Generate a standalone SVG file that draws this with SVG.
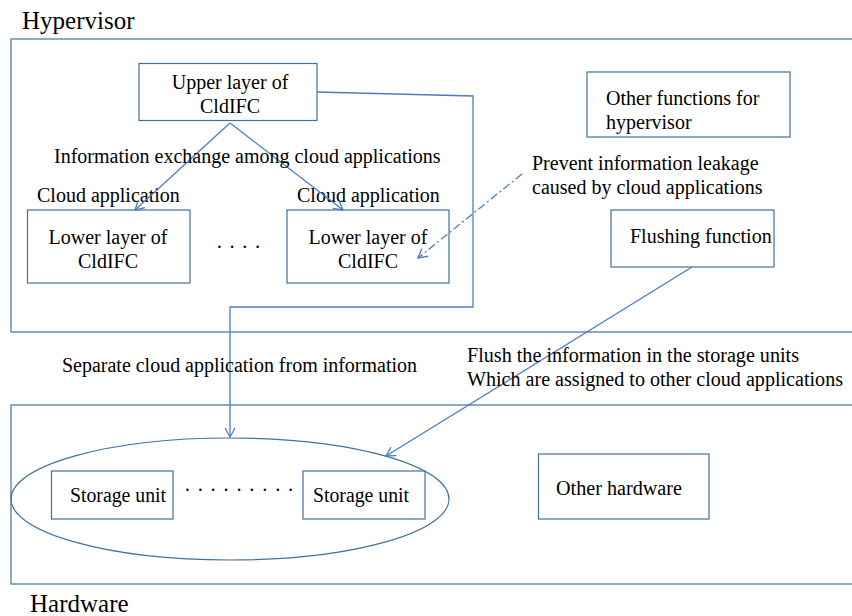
<svg xmlns="http://www.w3.org/2000/svg" width="852" height="616" viewBox="0 0 852 616">
<style>
text{font-family:"Liberation Serif","Times New Roman",serif;fill:#000;font-size:20px}
.t{text-anchor:middle}
.big{font-size:25px}
.box{fill:#fff;stroke:#41719C;stroke-width:1.2}
.frame{fill:none;stroke:#41719C;stroke-width:1.2}
.ln{fill:none;stroke:#4A7EC4;stroke-width:1.3}
.dd{fill:none;stroke:#4A7EC4;stroke-width:1.3;stroke-dasharray:8 3 2 3}
</style>
<defs>
<marker id="ah" markerWidth="12" markerHeight="12" refX="10" refY="6" orient="auto" markerUnits="userSpaceOnUse">
<path d="M1,1 L10,6 L1,11" fill="none" stroke="#4A7EC4" stroke-width="1.3"/>
</marker>
</defs>
<g id="hypervisor">
<rect class="frame" x="11" y="39" width="846" height="293"/>
<text class="big" x="22" y="29">Hypervisor</text>
</g>
<g id="hardware">
<rect class="frame" x="11" y="405" width="846" height="179"/>
<text class="big" x="30" y="612">Hardware</text>
</g>
<g id="upper">
<rect class="box" x="139" y="63.5" width="178" height="57"/>
<text class="t" x="230" y="89">Upper layer of</text>
<text class="t" x="230" y="113">CldIFC</text>
</g>
<g id="lower1">
<rect class="box" x="27.5" y="210" width="162.5" height="73"/>
<text class="t" x="108" y="244">Lower layer of</text>
<text class="t" x="108" y="268">CldIFC</text>
<text x="37" y="202">Cloud application</text>
</g>
<g id="lower2">
<rect class="box" x="287" y="210" width="162" height="73"/>
<text class="t" x="368" y="244">Lower layer of</text>
<text class="t" x="368" y="268">CldIFC</text>
<text x="297" y="202">Cloud application</text>
</g>
<g id="dots1"><text x="216" y="254" textLength="45">· · · ·</text></g>
<g id="other-functions">
<rect class="box" x="587" y="72" width="203" height="65"/>
<text x="606" y="105">Other functions for</text>
<text x="606" y="129">hypervisor</text>
</g>
<g id="flushing">
<rect class="box" x="611" y="210" width="163" height="57"/>
<text x="630" y="243">Flushing function</text>
</g>
<g id="storage">
<ellipse class="frame" cx="230" cy="499" rx="219" ry="61"/>
<rect class="box" x="51.5" y="471" width="121.5" height="48"/>
<text x="70" y="502" textLength="96" lengthAdjust="spacingAndGlyphs">Storage unit</text>
<rect class="box" x="303" y="471" width="122" height="48"/>
<text x="313" y="502" textLength="96" lengthAdjust="spacingAndGlyphs">Storage unit</text>
<text x="184" y="497" textLength="110">· · · · · · · · ·</text>
</g>
<g id="other-hardware">
<rect class="box" x="538.5" y="454" width="170.5" height="65"/>
<text x="556" y="495" textLength="126" lengthAdjust="spacingAndGlyphs">Other hardware</text>
</g>
<g id="connectors">
<line class="ln" x1="230" y1="123" x2="135" y2="210" marker-end="url(#ah)"/>
<line class="ln" x1="230" y1="123" x2="343" y2="210" marker-end="url(#ah)"/>
<polyline class="ln" points="317,92 473,96 473,307 230,307 230,437" marker-end="url(#ah)"/>
<line class="dd" x1="522" y1="174" x2="418" y2="258" marker-end="url(#ah)"/>
<line class="ln" x1="692" y1="267" x2="386" y2="456" marker-end="url(#ah)"/>
</g>
<g id="labels">
<text x="54" y="163">Information exchange among cloud applications</text>
<text x="532" y="170">Prevent information leakage</text>
<text x="532" y="194">caused by cloud applications</text>
<text x="62" y="372" textLength="355" lengthAdjust="spacingAndGlyphs">Separate cloud application from information</text>
<text x="467" y="362" textLength="332" lengthAdjust="spacingAndGlyphs">Flush the information in the storage units</text>
<text x="467" y="386" textLength="376" lengthAdjust="spacingAndGlyphs">Which are assigned to other cloud applications</text>
</g>
</svg>
